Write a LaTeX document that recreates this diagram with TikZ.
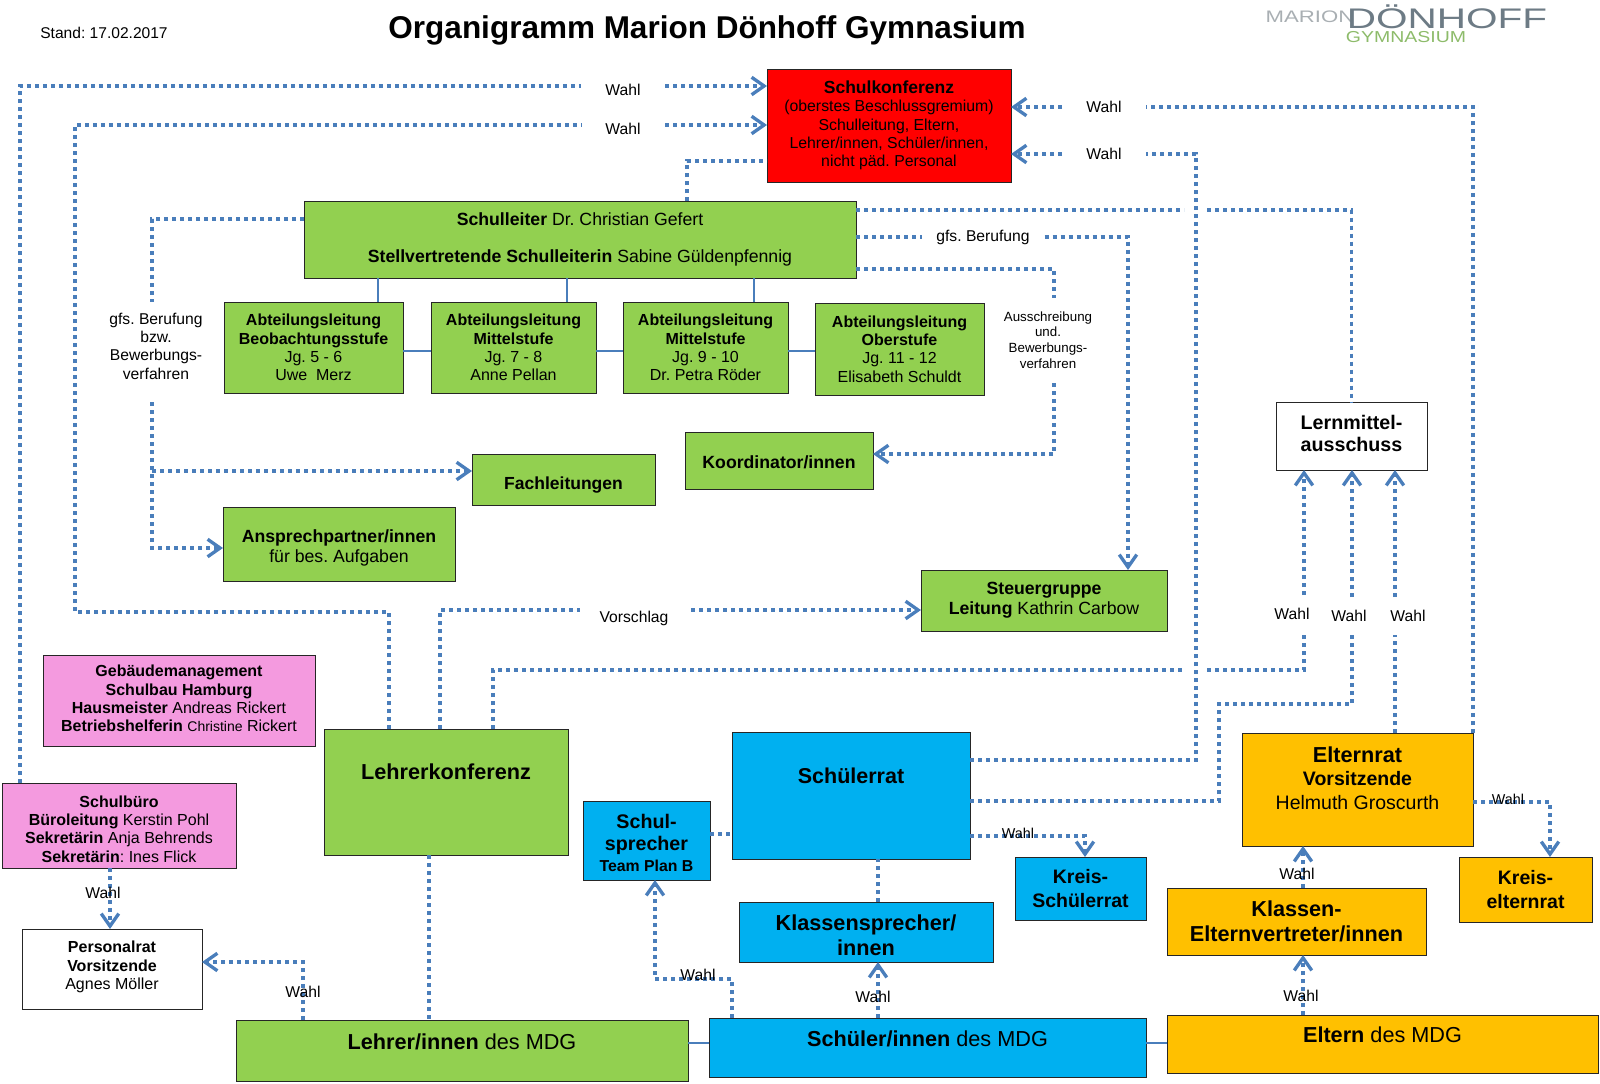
\documentclass[tikz,border=0pt]{standalone}
\usepackage{xcolor}
\usepackage{fontspec}
\setmainfont{Liberation Sans}
\usetikzlibrary{arrows.meta}
\AtBeginDocument{\frenchspacing}

\definecolor{mdggreen}{HTML}{92D050}
\definecolor{mdgblue}{HTML}{00B0F0}
\definecolor{mdgorange}{HTML}{FFC000}
\definecolor{mdgpink}{HTML}{F49ADF}
\definecolor{mdgline}{HTML}{4A7EBB}
\definecolor{mdggrey}{HTML}{6D7B85}
\definecolor{mdglight}{HTML}{A9AFB3}
\definecolor{mdgleaf}{HTML}{8DBB6A}

\newcommand{\fsize}[2]{\fontsize{#1}{#2}\selectfont}

\tikzset{
	>={Straight Barb[length=7.5pt,width=10.5pt,line width=2pt]},
	sized/.style 2 args={minimum width=#1*0.6pt, minimum height=#2*0.6pt},
	orgbox/.style={shape=rectangle,draw=black!85,line width=0.55pt,inner sep=0pt,
		outer sep=0pt,anchor=north west,align=center,font=\fsize{9.6}{11}\selectfont},
	greenbox/.style={orgbox,fill=mdggreen},
	bluebox/.style={orgbox,fill=mdgblue},
	orangebox/.style={orgbox,fill=mdgorange},
	pinkbox/.style={orgbox,fill=mdgpink},
	whitebox/.style={orgbox,fill=white},
	dotline/.style={draw=mdgline,line width=2.3pt,dash pattern=on 2.4pt off 2.4pt},
	thinline/.style={draw=mdgline,line width=0.7pt},
	textlabel/.style={inner sep=0pt,outer sep=0pt,align=center,font=\fsize{9.4}{11}\selectfont},
	smalllabel/.style={textlabel,font=\fsize{8.6}{10}\selectfont},
}

\begin{document}
\begin{tikzpicture}[x=0.6pt,y=-0.6pt]
	\useasboundingbox (0,0) rectangle (1600,1083);

	% head line
	\node[textlabel,font=\fsize{9.35}{11}\selectfont] (stand) at (104,33) {Stand: 17.02.2017};
	\node[textlabel,font=\fsize{18.9}{22}\selectfont\bfseries] (title) at (707,30)
		{Organigramm Marion Dönhoff Gymnasium};
	\node[textlabel,text=mdglight] (logoa) at (1310,17)
		{\scalebox{1.33}[1]{\fsize{10}{12}\selectfont MARION}};
	\node[textlabel,text=mdggrey] (logob) at (1447,17)
		{\scalebox{1.43}[1]{\fsize{17}{20}\selectfont DÖNHOFF}};
	\node[textlabel,text=mdgleaf] (logoc) at (1406,37)
		{\scalebox{1.23}[1]{\fsize{9.5}{11}\selectfont GYMNASIUM}};

	% boxes
	\node[orgbox,fill=red,sized={244}{113},font=\fsize{9.5}{11}\selectfont] (sk) at (767,69)
		{{\fsize{10.5}{11}\selectfont\bfseries Schulkonferenz}\\
		(oberstes Beschlussgremium)\\Schulleitung, Eltern,\\
		Lehrer/innen, Schüler/innen,\\nicht päd. Personal};
	\node[greenbox,sized={552}{77},font=\fsize{10.6}{11}\selectfont] (sl) at (304,201)
		{\textbf{Schulleiter} Dr. Christian Gefert\\[11pt]
		\textbf{Stellvertretende Schulleiterin} Sabine Güldenpfennig};
	\node[greenbox,sized={179}{91}] (ala) at (224,302)
		{\textbf{Abteilungsleitung}\\\textbf{Beobachtungsstufe}\\Jg. 5 - 6\\Uwe~~Merz};
	\node[greenbox,sized={165}{91}] (alb) at (431,302)
		{\textbf{Abteilungsleitung}\\\textbf{Mittelstufe}\\Jg. 7 - 8\\Anne Pellan};
	\node[greenbox,sized={165}{91}] (alc) at (623,302)
		{\textbf{Abteilungsleitung}\\\textbf{Mittelstufe}\\Jg. 9 - 10\\Dr. Petra Röder};
	\node[greenbox,sized={169}{92}] (ald) at (815,303)
		{\textbf{Abteilungsleitung}\\\textbf{Oberstufe}\\Jg. 11 - 12\\Elisabeth Schuldt};
	\node[greenbox,sized={183}{51},font=\fsize{10.5}{12}\selectfont\bfseries] (fl) at (472,454)
		{\rule{0pt}{14.5pt}Fachleitungen};
	\node[greenbox,sized={188}{57},font=\fsize{10.6}{12}\selectfont\bfseries] (ko) at (685,432)
		{\rule{0pt}{10pt}Koordinator/innen};
	\node[greenbox,sized={232}{74},font=\fsize{10.6}{12.2}\selectfont] (ap) at (223,507)
		{\rule{0pt}{12.5pt}\textbf{Ansprechpartner/innen}\\für bes. Aufgaben};
	\node[greenbox,sized={246}{61},font=\fsize{10.6}{12.2}\selectfont] (st) at (921,570)
		{\textbf{Steuergruppe}\\\textbf{Leitung} Kathrin Carbow};
	\node[whitebox,sized={151}{68},font=\fsize{11.8}{13.4}\selectfont\bfseries] (lm) at (1276,402)
		{Lernmittel-\\ausschuss\\[-10pt]\mbox{}};
	\node[pinkbox,sized={272}{91}] (gm) at (43,655)
		{\textbf{Gebäudemanagement}\\\textbf{Schulbau Hamburg}\\
		\textbf{Hausmeister} Andreas Rickert\\
		\textbf{Betriebshelferin} {\fsize{8.4}{11}\selectfont Christine} Rickert\\[-8.6pt]\mbox{}};
	\node[greenbox,sized={244}{126},font=\fsize{13}{15}\selectfont\bfseries] (lk) at (324,729)
		{Lehrerkonferenz\\[9pt]\mbox{}};
	\node[pinkbox,sized={234}{85}] (sb) at (2,783)
		{\rule{0pt}{11pt}\textbf{Schulbüro}\\\textbf{Büroleitung} Kerstin Pohl\\
		\textbf{Sekretärin} Anja Behrends\\\textbf{Sekretärin}: Ines Flick};
	\node[whitebox,sized={180}{80}] (pr) at (22,929)
		{\textbf{Personalrat}\\\textbf{Vorsitzende}\\Agnes Möller\\[-6.5pt]\mbox{}};
	\node[greenbox,sized={452}{61},font=\fsize{13}{15}\selectfont] (le) at (236,1020)
		{\textbf{Lehrer/innen} des MDG\\[-4pt]\mbox{}};
	\node[bluebox,sized={437}{59},font=\fsize{13}{15}\selectfont] (sn) at (709,1018)
		{\textbf{Schüler/innen} des MDG\\[-4pt]\mbox{}};
	\node[orangebox,sized={431}{58},font=\fsize{13}{15}\selectfont] (el) at (1167,1015)
		{\textbf{Eltern} des MDG\\[-4pt]\mbox{}};
	\node[bluebox,sized={127}{79},font=\fsize{11.8}{13.4}\selectfont\bfseries] (ss) at (583,801)
		{\rule{0pt}{11.5pt}Schul-\\sprecher\\[-1pt]{\fsize{9.5}{11}\selectfont Team Plan B}};
	\node[bluebox,sized={238}{127},font=\fsize{12.9}{15}\selectfont\bfseries] (sr) at (732,732)
		{Schülerrat\\[9pt]\mbox{}};
	\node[bluebox,sized={254}{60},font=\fsize{13}{15.3}\selectfont\bfseries] (kl) at (739,902)
		{\rule{0pt}{13.5pt}Klassensprecher/\\innen};
	\node[bluebox,sized={131}{63},font=\fsize{11.7}{14}\selectfont\bfseries] (ks) at (1015,857)
		{Kreis-\\Schülerrat};
	\node[orangebox,sized={231}{113},font=\fsize{11.7}{14}\selectfont] (er) at (1242,733)
		{{\fsize{13}{14}\selectfont\bfseries Elternrat}\\\textbf{Vorsitzende}\\Helmuth Groscurth\\\mbox{}};
	\node[orangebox,sized={259}{67},font=\fsize{13}{15.3}\selectfont\bfseries] (ke) at (1167,888)
		{Klassen-\\Elternvertreter/innen};
	\node[orangebox,sized={133}{65},font=\fsize{11.7}{14}\selectfont\bfseries] (kr) at (1459,857)
		{Kreis-\\elternrat};

	% labels that break a line
	\node[textlabel,sized={84}{20}] (wahla) at (623,86) {\raisebox{-5.6pt}[0pt][0pt]{Wahl}};
	\node[textlabel,sized={84}{20}] (wahlb) at (623,125) {\raisebox{-5.4pt}[0pt][0pt]{Wahl}};
	\node[textlabel,sized={84}{20}] (wahlc) at (1104,107) {Wahl};
	\node[textlabel,sized={84}{20}] (wahld) at (1104,154) {Wahl};
	\node[textlabel,sized={123}{20}] (berufa) at (983,237) {gfs. Berufung};
	\node[textlabel,sized={100}{100}] (berufb) at (156,346)
		{gfs. Berufung\\bzw.\\Bewerbungs-\\verfahren};
	\node[textlabel,font=\fsize{8}{9.5}\selectfont,sized={100}{84}] (ausschr) at (1048,340)
		{Ausschreibung\\und.\\Bewerbungs-\\verfahren};
	\node[textlabel] (vorschlag) at (634,618) {Vorschlag};
	\node[textlabel,sized={40}{38}] (wahlf) at (1292,614) {Wahl};
	\node[textlabel,sized={40}{38}] (wahlg) at (1349,616) {Wahl};
	\node[textlabel,sized={40}{38}] (wahlh) at (1408,616) {Wahl};

	% free ends of the lines
	\coordinate (slup) at (687,161);
	\coordinate (slra) at (856,210);
	\coordinate (slrb) at (856,237);
	\coordinate (slrc) at (856,269);
	\coordinate (slla) at (304,219);
	\coordinate (gapa) at (1184,210);
	\coordinate (gapb) at (1207,210);
	\coordinate (gapc) at (1182,670);
	\coordinate (gapd) at (1207,670);
	\coordinate (bendb) at (75,612);
	\coordinate (bendd) at (1196,154);
	\coordinate (bendf) at (152,471);
	\coordinate (bendg) at (152,548);
	\coordinate (bendh) at (1219,704);
	\coordinate (gfst) at (152,302);
	\coordinate (gfsb) at (152,402);
	\coordinate (aust) at (1054,298);
	\coordinate (ausb) at (1054,383);
	\coordinate (koe) at (873,454);
	\coordinate (stt) at (1128,570);
	\coordinate (vsl) at (580,610);
	\coordinate (vsr) at (691,610);
	\coordinate (lma) at (1304,470);
	\coordinate (lmb) at (1352,470);
	\coordinate (lmc) at (1395,470);
	\coordinate (sra) at (970,760);
	\coordinate (srb) at (970,801);
	\coordinate (src) at (970,836);
	\coordinate (srd) at (710,834);
	\coordinate (kst) at (1085,857);
	\coordinate (erk) at (1473,802);
	\coordinate (krt) at (1550,857);
	\coordinate (klt) at (878,902);
	\coordinate (sst) at (655,880);
	\coordinate (snb) at (655,979);
	\coordinate (lkb) at (429,855);
	\coordinate (sbb) at (110,868);
	\coordinate (leb) at (303,962);
	\coordinate (ket) at (1303,888);
	\coordinate (kmid) at (1303,1015);

	% upper lines
	\draw[dotline] (sb.north west) ++(18,0) |- (wahla.west);
	\draw[dotline,->] (wahla.east) -- (wahla.east -| sk.west);
	\draw[dotline] (lk.north west) ++(65,0) |- (bendb) |- (wahlb.west);
	\draw[dotline,->] (wahlb.east) -- (wahlb.east -| sk.west);
	\draw[dotline] (sl.north west) ++(383,0) |- (slup -| sk.west);
	\draw[dotline] (er.north east) |- (wahlc.east);
	\draw[dotline,->] (wahlc.west) -- (wahlc.west -| sk.east);
	\draw[dotline] (sra) -| (bendd) -- (wahld.east);
	\draw[dotline,->] (wahld.west) -- (wahld.west -| sk.east);
	\draw[dotline] (slra) -- (gapa);
	\draw[dotline] (gapb) -| (lm.north);
	\draw[dotline] (slrb) -- (berufa.west |- slrb);
	\draw[dotline,->] (berufa.east) -| (stt);
	\draw[dotline] (slrc) -| (aust);
	\draw[dotline,->] (ausb) |- (koe);
	\draw[dotline] (slla) -| (gfst);
	\draw[dotline,->] (gfsb) |- (bendg -| ap.west);
	\draw[dotline,->] (bendf) -- (bendf -| fl.west);

	% lines to the committee
	\draw[dotline] (lk.north west) ++(116,0) |- (vsl);
	\draw[dotline,->] (vsr) -- (vsr -| st.west);
	\draw[dotline] (lk.north west) ++(169,0) |- (gapc);
	\draw[dotline] (gapd) -| (wahlf.south -| lma);
	\draw[dotline,->] (wahlf.north -| lma) -- (lma);
	\draw[dotline] (srb) -| (bendh) -| (wahlg.south -| lmb);
	\draw[dotline,->] (wahlg.north -| lmb) -- (lmb);
	\draw[dotline] (er.north west) ++(153,0) -- (wahlh.south -| lmc);
	\draw[dotline,->] (wahlh.north -| lmc) -- (lmc);

	% lower lines
	\draw[dotline] (srd) -- (srd -| sr.west);
	\draw[dotline,->] (src) -| (kst);
	\draw[dotline] (klt) -- (klt |- sr.south);
	\draw[dotline,->] (sn.north west) ++(169,0) -- (klt |- kl.south);
	\draw[dotline,->] (sn.north west) ++(23,0) |- (snb) -- (sst);
	\draw[dotline] (lkb) -- (lkb |- le.north);
	\draw[dotline,->] (sbb) -- (sbb |- pr.north);
	\draw[dotline,->] (leb |- le.north) -- (leb) -- (leb -| pr.east);
	\draw[dotline,->] (ket) -- (ket |- er.south);
	\draw[dotline,->] (kmid) -- (ket |- ke.south);
	\draw[dotline,->] (erk) -| (krt);

	% solid lines
	\foreach \xpos in {378,567,754} {
		\draw[thinline] (\xpos,278) -- (\xpos,302);
	}
	\draw[thinline] (ala.east |- 0,351) -- (alb.west |- 0,351);
	\draw[thinline] (alb.east |- 0,351) -- (alc.west |- 0,351);
	\draw[thinline] (alc.east |- 0,351) -- (ald.west |- 0,351);
	\draw[thinline] (le.east |- 0,1043) -- (sn.west |- 0,1043);
	\draw[thinline] (sn.east |- 0,1043) -- (el.west |- 0,1043);

	% labels on a line
	\node[textlabel] (wahli) at (103,893) {Wahl};
	\node[textlabel] (wahlj) at (303,992) {Wahl};
	\node[textlabel] (wahlk) at (698,975) {Wahl};
	\node[textlabel] (wahll) at (873,997) {Wahl};
	\node[textlabel] (wahlm) at (1297,874) {Wahl};
	\node[textlabel] (wahln) at (1301,996) {Wahl};
	\node[smalllabel] (wahlo) at (1018,833) {Wahl};
	\node[smalllabel] (wahlp) at (1508,799) {Wahl};
\end{tikzpicture}
\end{document}
